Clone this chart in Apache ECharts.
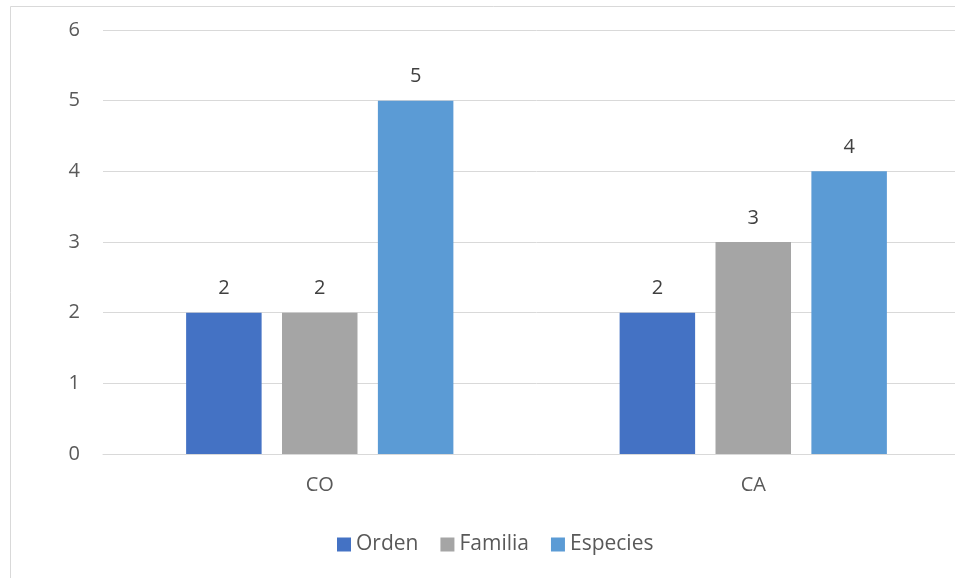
<!DOCTYPE html>
<html>
<head>
<meta charset="utf-8">
<script src="https://cdn.jsdelivr.net/npm/echarts@6/dist/echarts.min.js"></script>
<style>
  html, body { margin: 0; padding: 0; background: #ffffff; overflow: hidden; }
  #chart { width: 975px; height: 578px; }
</style>
</head>
<body>
<div id="chart"></div>
<script>
// Categories and series values
const categories = ['CO', 'CA'];
const seriesNames = ['Orden', 'Familia', 'Especies'];
const orden = [2, 2];
const familia = [2, 3];
const especies = [5, 4];
const yTicks = [0, 1, 2, 3, 4, 5, 6];

const colors = ['#4472C4', '#A5A5A5', '#5B9BD5'];
const FONT = '"Open Sans", "Noto Sans", sans-serif';

const chart = echarts.init(document.getElementById('chart'), null, { renderer: 'canvas' });

function barSeries(name, values, color) {
  return {
    name: name,
    type: 'bar',
    data: values,
    barWidth: 75.5,
    barGap: '27%',
    itemStyle: { color: color },
    label: {
      show: true,
      position: 'top',
      distance: 14,
      color: '#404040',
      fontFamily: FONT,
      fontSize: 20
    }
  };
}

chart.setOption({
  animation: false,
  color: colors,
  graphic: [{
    type: 'rect',
    shape: { x: 10.5, y: 6.5, width: 1000, height: 700 },
    style: { fill: 'none', stroke: '#d9d9d9', lineWidth: 1 },
    silent: true,
    z: -1
  }],
  legend: {
    data: seriesNames,
    top: 534,
    left: 337,
    padding: 0,
    itemWidth: 14,
    itemHeight: 14,
    itemGap: 22,
    icon: 'rect',
    textStyle: { color: '#595959', fontFamily: FONT, fontSize: 21 }
  },
  grid: { left: 103, top: 30, width: 867, height: 424, containLabel: false },
  xAxis: {
    type: 'category',
    data: categories,
    axisLine: { lineStyle: { color: '#d9d9d9', width: 1 } },
    axisTick: { show: false },
    axisLabel: { color: '#595959', fontFamily: FONT, fontSize: 20, margin: 21 }
  },
  yAxis: {
    type: 'value',
    min: yTicks[0],
    max: yTicks[yTicks.length - 1],
    interval: 1,
    axisLine: { show: false },
    axisTick: { show: false },
    splitLine: { lineStyle: { color: '#d9d9d9', width: 1 } },
    axisLabel: { color: '#595959', fontFamily: FONT, fontSize: 20, margin: 23 }
  },
  series: [
    barSeries(seriesNames[0], orden, colors[0]),
    barSeries(seriesNames[1], familia, colors[1]),
    barSeries(seriesNames[2], especies, colors[2])
  ]
});
</script>
</body>
</html>
